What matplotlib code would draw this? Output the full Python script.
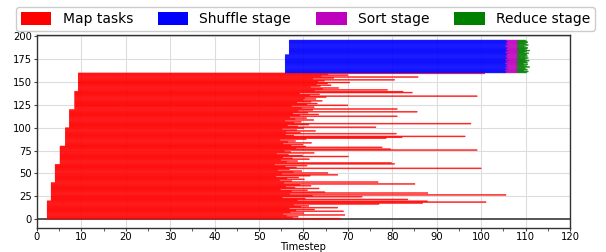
import numpy as np
import matplotlib
matplotlib.use("Agg")
import matplotlib.pyplot as plt
from matplotlib.patches import Patch
from matplotlib.ticker import MultipleLocator

# ---- data ----
map_wave_starts = [2.3, 3.2, 4.1, 5.2, 6.4, 7.3, 8.5, 9.3]
map_wave_size = 20
map_end = [
    68.4, 57.5, 58.8, 56.2, 69.3, 55.4, 60.1, 57.0, 69.0, 58.3, 62.5, 56.8, 67.7, 59.4, 61.2, 57.8, 77.0, 86.8, 101.1, 87.9,
    58.6, 83.5, 60.4, 55.2, 73.2, 62.0, 105.6, 56.9, 88.0, 64.8, 57.3, 60.9, 54.8, 63.5, 58.1, 56.0, 61.7, 59.2, 85.1, 55.6,
    76.8, 57.4, 54.6, 60.2, 56.3, 58.9, 53.8, 61.5, 67.7, 55.1, 65.5, 57.7, 59.6, 54.2, 56.8, 100.0, 58.4, 55.9, 60.8, 53.5,
    80.5, 79.8, 56.2, 58.7, 54.9, 61.3, 57.5, 55.3, 70.1, 59.8, 56.6, 53.9, 62.4, 57.1, 55.7, 99.1, 79.6, 58.3, 77.7, 60.5,
    57.2, 59.9, 55.4, 61.8, 56.5, 58.2, 54.7, 60.6, 78.6, 82.2, 96.4, 57.8, 55.9, 80.9, 59.3, 56.1, 62.7, 58.5, 55.2, 60.1,
    76.3, 58.7, 56.4, 61.2, 97.7, 57.9, 59.5, 55.8, 62.3, 58.1, 60.7, 56.9, 81.1, 59.2, 63.4, 57.6, 61.0, 85.6, 58.8, 62.1,
    81.1, 59.6, 62.4, 57.3, 70.0, 60.8, 63.1, 58.5, 61.7, 64.2, 59.9, 62.8, 60.3, 65.1, 99.1, 61.4, 63.6, 59.1, 84.5, 82.4,
    62.5, 78.9, 64.3, 67.9, 61.6, 63.8, 66.2, 62.9, 65.4, 70.4, 63.2, 64.7, 80.5, 62.1, 66.8, 85.8, 64.0, 70.0, 65.5, 100.8,
]

reduce_wave_starts = [55.9, 56.8]
reduce_wave_sizes = [20, 16]
shuffle_end = [105.6, 105.9, 105.4, 106.1, 105.7, 105.5, 106.2, 105.8, 105.6, 106.0,
               105.4, 105.9, 105.7, 106.3, 105.5, 105.8, 106.0, 105.6, 105.9, 105.7,
               105.8, 106.1, 105.5, 105.9, 106.2, 105.6, 105.8, 106.0, 105.7, 105.5,
               106.1, 105.8, 105.6, 106.0, 105.9, 105.7]
sort_end = [108.2, 108.5, 107.9, 108.6, 108.1, 108.0, 108.7, 108.3, 108.0, 108.4,
            107.9, 108.5, 108.2, 108.8, 108.0, 108.3, 108.6, 108.1, 108.4, 108.2,
            108.3, 108.6, 108.0, 108.4, 108.7, 108.1, 108.3, 108.5, 108.2, 108.0,
            108.6, 108.3, 108.1, 108.5, 108.4, 108.2]
reduce_end = [110.2, 110.6, 109.6, 110.4, 110.0, 109.8, 110.9, 110.3, 109.7, 110.5,
              109.5, 110.4, 110.1, 110.8, 109.8, 110.2, 110.6, 109.9, 110.4, 110.1,
              110.3, 110.7, 109.7, 110.2, 110.9, 109.9, 110.3, 110.5, 110.0, 109.6,
              110.6, 110.2, 109.9, 110.5, 110.3, 110.0]

legend_labels = ["Map tasks", "Shuffle stage", "Sort stage", "Reduce stage"]
colors = ["#ff0000", "#0000ff", "#bf00bf", "#008000"]

# ---- derived ----
map_start = np.repeat(map_wave_starts, map_wave_size)
map_end = np.array(map_end)
n_map = len(map_end)
red_start = np.repeat(reduce_wave_starts, reduce_wave_sizes)
shuffle_end = np.array(shuffle_end)
sort_end = np.array(sort_end)
reduce_end = np.array(reduce_end)
red_y = n_map + np.arange(len(shuffle_end))

fig = plt.figure(figsize=(6.06, 2.52), dpi=100)
ax = fig.add_axes([0.061, 0.097, 0.8795, 0.764])

ax.grid(True, color="#dddddd", lw=0.8, zorder=0)
ax.set_axisbelow(True)
ax.axhline(0, color="#555555", lw=1.4, zorder=1)

alpha = 0.8
bar_kw = dict(height=1, align="edge", alpha=alpha, lw=0.4, zorder=2, snap=False)
ax.barh(np.arange(n_map), map_end - map_start, left=map_start,
        color=colors[0], edgecolor=colors[0], **bar_kw)
ax.barh(red_y, shuffle_end - red_start, left=red_start,
        color=colors[1], edgecolor=colors[1], **bar_kw)
ax.barh(red_y, sort_end - shuffle_end, left=shuffle_end,
        color=colors[2], edgecolor=colors[2], **bar_kw)
ax.barh(red_y, reduce_end - sort_end, left=sort_end,
        color=colors[3], edgecolor=colors[3], **bar_kw)

ax.set_xlim(0, 120)
ax.set_ylim(-9.3, 201.5)
ax.xaxis.set_major_locator(MultipleLocator(10))
ax.xaxis.set_minor_locator(MultipleLocator(5))
ax.yaxis.set_major_locator(MultipleLocator(25))
ax.tick_params(axis="both", which="major", labelsize=7.2, length=2.5, color="#444444", pad=1.2)
ax.tick_params(axis="x", which="major", pad=0.6)
ax.tick_params(axis="x", which="minor", length=1.8, color="#444444")
ax.set_xlabel("Timestep", fontsize=7.2, labelpad=-0.2)
for s in ax.spines.values():
    s.set_color("#333333")
    s.set_linewidth(1.0)

handles = [Patch(facecolor=c, edgecolor="none") for c in colors]
fig.legend(handles, legend_labels, loc="upper left", ncol=4, mode="expand",
           bbox_to_anchor=(0.015, 0.0, 0.978, 0.998), fontsize=10,
           frameon=True, fancybox=True, handlelength=2.2, handleheight=1.0,
           borderpad=0.35, edgecolor="#cccccc", framealpha=1)

fig.savefig("out.png", dpi=100)
